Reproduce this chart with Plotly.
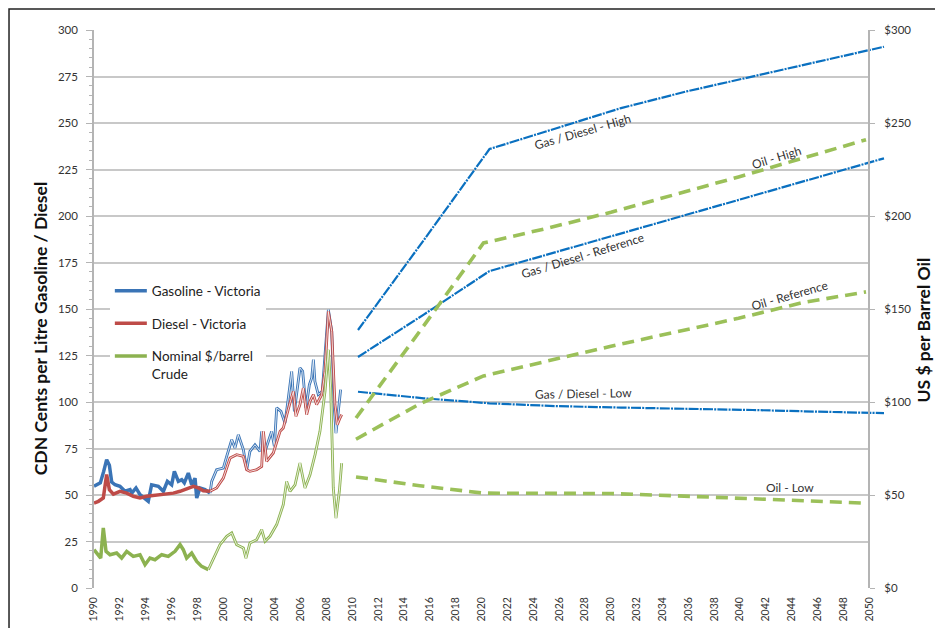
import plotly.graph_objects as go

# ---------------- data ----------------
gas_years = [1990.0, 1990.49, 1990.75, 1990.98, 1991.19, 1991.37, 1991.63, 1992.01, 1992.40, 1992.79,
             1992.92, 1993.25, 1993.56, 1994.0, 1994.2, 1994.46, 1994.98, 1995.37, 1995.68, 1996.01,
             1996.22, 1996.53, 1996.79, 1996.99, 1997.30, 1997.56, 1997.82, 1997.95, 1998.2, 1998.59,
             1998.98, 1999.11, 1999.49, 2000.01, 2000.27, 2000.66, 2000.91, 2001.17, 2001.56, 2001.82,
             2002.07, 2002.46, 2002.85, 2002.98, 2003.24, 2003.75, 2003.96, 2004.14, 2004.47, 2004.78,
             2005.04, 2005.30, 2005.51, 2005.69, 2005.94, 2006.15, 2006.41, 2006.67, 2006.85, 2006.98,
             2007.10, 2007.36, 2007.67, 2007.88, 2008.14, 2008.40, 2008.58, 2008.73, 2008.91, 2009.09]
gas_vals = [54.7, 56.5, 62.7, 69, 66, 57, 55.5, 54.7, 52, 52.9,
            51, 53.8, 50.2, 47.5, 46.6, 55.5, 54.7, 52, 57.3, 55.5,
            62.7, 57.3, 58.2, 56.5, 61.8, 55.5, 59, 48.4, 53.8, 52.9,
            51, 57.3, 63.6, 64.5, 70.8, 79.7, 75.3, 82.4, 74.4, 63.6,
            73.5, 77, 73.5, 84.2, 73.5, 84.2, 76.2, 96.8, 95, 88.7,
            102, 116.5, 95, 104.8, 118.3, 116.5, 96.8, 109.3, 112.9, 122.8,
            111, 104, 105.7, 125.4, 149.6, 138, 98.6, 83.3, 95.9, 106.6]

diesel_years = [1990.0, 1990.34, 1990.72, 1990.98, 1991.19, 1991.50, 1992.01, 1992.53, 1993.04, 1993.56,
                1994.08, 1994.59, 1995.11, 1995.62, 1996.14, 1996.66, 1997.17, 1997.69, 1998.08, 1998.46,
                1998.98, 1999.49, 2000.01, 2000.53, 2001.04, 2001.56, 2001.82, 2002.07, 2002.59, 2002.98,
                2003.11, 2003.36, 2003.88, 2004.40, 2004.65, 2004.91, 2005.17, 2005.43, 2005.63, 2005.94,
                2006.20, 2006.46, 2006.72, 2006.98, 2007.23, 2007.62, 2007.88, 2008.14, 2008.40, 2008.65,
                2008.83, 2009.04, 2009.17]
diesel_vals = [45.7, 46.6, 48.4, 61, 52.9, 50.5, 52, 51, 49.3, 48.4,
               49.3, 49.8, 50.2, 50.5, 51, 52, 53.4, 54.7, 53.8, 52.3,
               52, 53.8, 59.1, 69.9, 71.7, 70.8, 63.6, 62.7, 63.6, 65.4,
               84.2, 68.1, 72.6, 84.2, 86, 93.2, 99.5, 105.7, 92.3, 98.6,
               107.5, 93.2, 100.4, 103.9, 98.6, 103.9, 116.5, 148.7, 138, 98.6,
               87.8, 91.4, 93.2]

crude_years = [1990.0, 1990.34, 1990.52, 1990.72, 1990.93, 1991.24, 1991.75, 1992.14, 1992.53, 1993.04,
               1993.56, 1993.95, 1994.33, 1994.72, 1995.24, 1995.75, 1996.27, 1996.66, 1996.91, 1997.17,
               1997.56, 1997.95, 1998.33, 1998.85, 1999.24, 1999.75, 2000.27, 2000.66, 2001.04, 2001.56,
               2001.76, 2002.07, 2002.59, 2002.98, 2003.24, 2003.62, 2004.14, 2004.65, 2004.91, 2005.17,
               2005.56, 2005.94, 2006.33, 2006.72, 2007.11, 2007.49, 2007.88, 2008.14, 2008.32, 2008.52,
               2008.73, 2008.99, 2009.17]
crude_vals = [20.6, 17.9, 16.1, 32.3, 19.7, 17.9, 18.8, 16.1, 19.7, 17,
              17.9, 12.5, 16.1, 15.2, 17.9, 17, 19.7, 23.3, 20.6, 16.1,
              18.8, 14.3, 11.6, 9.9, 16.1, 23.3, 27.8, 29.6, 23.3, 21.5,
              16.1, 24.2, 26, 31.4, 25.1, 27.8, 34.1, 44.8, 57.3, 52,
              55.5, 67.2, 53.8, 60.9, 71.7, 84.2, 105.7, 128.1, 107.5, 53.8,
              37.6, 52, 67.2]

proj_years = [2010, 2015, 2020, 2025, 2030, 2035, 2040, 2045, 2050]
gas_high = [138.7, 187, 236, 247, 258, 267, 275, 283, 291]
gas_ref = [124.2, 147, 170.4, 180.5, 190.5, 200.5, 210.5, 221, 231]
gas_low = [105.5, 102, 99.3, 97.8, 97, 96.5, 95.7, 94.8, 94]
oil_high = [91.4, 138, 185.5, 193.4, 202, 211.3, 221, 231, 241]
oil_ref = [80, 99, 114, 122, 130, 137.5, 145, 153.4, 159.2]
oil_low = [59.7, 55, 51, 51, 50.8, 49.6, 48.3, 47, 45.6]

x_tick_years = list(range(1990, 2051, 2))
left_ticks = list(range(0, 301, 25))
right_ticks = list(range(0, 301, 50))
right_labels = ["$" + str(v) for v in right_ticks]

# ---------------- styling ----------------
FONT = "Lato"
C_GAS = "#3A74B6"
C_DSL = "#BE4B48"
C_CRD = "#8CB250"
C_PBLUE = "#0A70C0"
C_PGREEN = "#9BC059"
GRID = "#C8C8C8"
AXIS = "#B4B4B4"
X_END = 2051.3          # main axis range end (lets projections run past the right axis)
SPLIT = 1999.0          # thick line style before, outlined style after
PLOT_W = 792            # plot area width in px

fig = go.Figure()

def hist(years, vals, color, name, yaxis="y"):
    thick_idx = [i for i, yv in enumerate(years) if yv <= SPLIT]
    last = thick_idx[-1]
    fig.add_trace(go.Scatter(x=years[:last + 1], y=vals[:last + 1], mode="lines", name=name,
                             line=dict(color=color, width=3.5), yaxis=yaxis,
                             legendgroup=name, showlegend=True, hoverinfo="skip"))
    fig.add_trace(go.Scatter(x=years[last:], y=vals[last:], mode="lines",
                             line=dict(color=color, width=2.8), yaxis=yaxis,
                             legendgroup=name, showlegend=False, hoverinfo="skip"))
    fig.add_trace(go.Scatter(x=years[last:], y=vals[last:], mode="lines",
                             line=dict(color="white", width=0.8), yaxis=yaxis,
                             legendgroup=name, showlegend=False, hoverinfo="skip"))

hist(gas_years, gas_vals, C_GAS, "Gasoline - Victoria")
hist(diesel_years, diesel_vals, C_DSL, "Diesel - Victoria")
hist(crude_years, crude_vals, C_CRD, "Nominal $/barrel<br>Crude", yaxis="y2")

for vals in (gas_high, gas_ref, gas_low):
    fig.add_trace(go.Scatter(x=proj_years, y=vals, mode="lines", xaxis="x3",
                             line=dict(color=C_PBLUE, width=2.2, dash="10px,1.2px,2px,1.2px"),
                             showlegend=False, hoverinfo="skip"))
for vals in (oil_high, oil_ref, oil_low):
    fig.add_trace(go.Scatter(x=proj_years, y=vals, mode="lines", xaxis="x4", yaxis="y2",
                             line=dict(color=C_PGREEN, width=3.6, dash="12px,7px"),
                             showlegend=False, hoverinfo="skip"))

labels = [
    ("Gas / Diesel - High", 2027.85, 245.2, -16),
    ("Oil - High", 2042.8, 231.7, -17),
    ("Gas / Diesel - Reference", 2027.85, 178.5, -17),
    ("Oil - Reference", 2043.8, 157.5, -16),
    ("Gas / Diesel - Low", 2027.9, 104.8, -1),
    ("Oil - Low", 2043.9, 54.3, 0),
]
for txt, xv, yv, ang in labels:
    fig.add_annotation(x=xv, y=yv, xref="x", yref="y", text=txt, showarrow=False,
                       xanchor="center", yanchor="middle",
                       textangle=ang, font=dict(family=FONT, size=12, color="#333333"))

# axis titles
fig.add_annotation(x=-0.068, y=0.464, xref="paper", yref="paper", showarrow=False,
                   xanchor="center", yanchor="middle",
                   text="<b>CDN Cents per Litre Gasoline / Diesel</b>", textangle=-90,
                   font=dict(family=FONT, size=17.5, color="#111111"))
fig.add_annotation(x=1.047, y=0.462, xref="paper", yref="paper", showarrow=False,
                   xanchor="center", yanchor="middle",
                   text="<b>US $ per Barrel Oil</b>", textangle=-90,
                   font=dict(family=FONT, size=17.5, color="#111111"))

# white strip hiding horizontal gridlines beyond the right axis
fig.add_shape(type="rect", xref="x", yref="y", x0=2050.05, x1=X_END + 1, y0=-1, y1=301,
              fillcolor="white", line=dict(width=0), layer="between")
# outer chart frame
fig.add_shape(type="rect", xref="paper", yref="paper", x0=-0.1073, x1=1.2, y0=-0.2, y1=1.0376,
              line=dict(color="#222222", width=1.5), fillcolor="rgba(0,0,0,0)", layer="above")

pos_right = (2050 - 1990) / (X_END - 1990)

# projection scales (the projection panel sits slightly offset from the history scale)
b0 = 2010 - (358 - 94) / 13.15
g0 = 2010 - (356 - 94) / 12.75

# page body has an 8px default margin -> figure is 8px smaller and margins shifted by 8
fig.update_layout(
    width=935, height=620,
    margin=dict(l=86, r=935 - 86 - PLOT_W, t=22, b=620 - 22 - 558, autoexpand=False),
    paper_bgcolor="white", plot_bgcolor="white",
    font=dict(family=FONT, size=11, color="#333333"),
    showlegend=True,
    legend=dict(x=0.02, y=0.56, xanchor="left", yanchor="top", bgcolor="white",
                font=dict(family=FONT, size=13.5, color="#222222"), tracegroupgap=12,
                itemwidth=32, valign="top"),
    xaxis=dict(range=[1990, X_END], tickvals=x_tick_years, ticktext=[str(v) for v in x_tick_years],
               tickangle=-90, showgrid=False, zeroline=False, showline=False, ticks="",
               automargin=False, ticklabelstandoff=6,
               tickfont=dict(family=FONT, size=10.5, color="#333333")),
    xaxis2=dict(range=[1990, X_END], overlaying="x", tick0=1990, dtick=2.953, showgrid=True,
                gridcolor=GRID, gridwidth=1.6, showticklabels=False, ticks="outside", ticklen=5,
                tickcolor=GRID, tickwidth=1.6, zeroline=False, showline=False, automargin=False),
    xaxis3=dict(range=[b0, b0 + PLOT_W / 13.15], overlaying="x", visible=False, automargin=False),
    xaxis4=dict(range=[g0, g0 + PLOT_W / 12.75], overlaying="x", visible=False, automargin=False),
    yaxis=dict(range=[0, 300], tickvals=left_ticks, showgrid=True, gridcolor=GRID, gridwidth=1.6,
               zeroline=False, showline=True, linecolor=AXIS, linewidth=1.6, ticks="outside",
               ticklen=6, tickcolor=AXIS, tickwidth=1.4, ticklabelstandoff=6, automargin=False,
               minor=dict(dtick=5, ticks="outside", ticklen=3, tickcolor=AXIS, showgrid=False),
               tickfont=dict(family=FONT, size=11.5, color="#333333")),
    yaxis2=dict(range=[0, 300], overlaying="y", anchor="free", position=pos_right, side="right",
                tickvals=right_ticks, ticktext=right_labels, showgrid=False, zeroline=False,
                showline=True, linecolor=AXIS, linewidth=1.6, ticks="outside", ticklen=5,
                tickcolor=AXIS, tickwidth=1.4, ticklabelstandoff=7, automargin=False,
                tickfont=dict(family=FONT, size=11.5, color="#333333")),
)

fig.write_html("out.html")
